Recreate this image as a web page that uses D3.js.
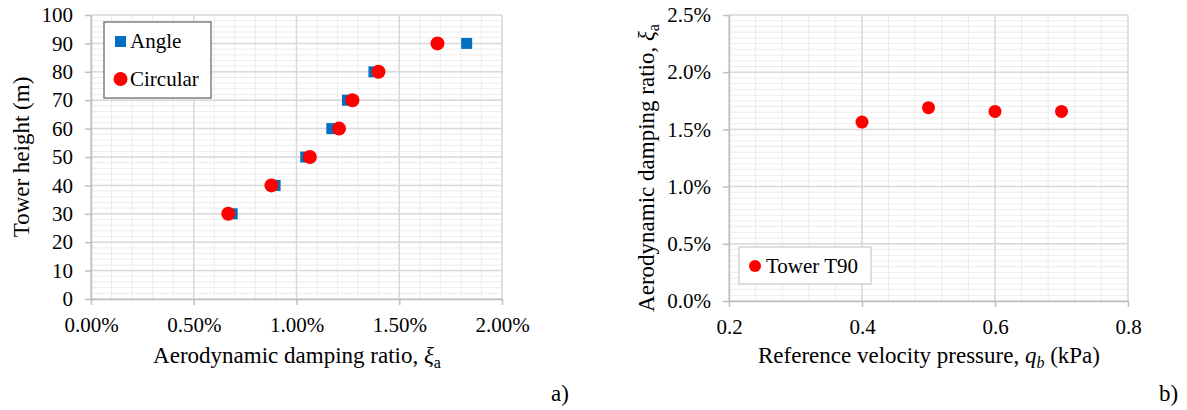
<!DOCTYPE html>
<html><head><meta charset="utf-8">
<script src="https://cdn.jsdelivr.net/npm/d3@7"></script>
<style>
body{margin:0;background:#fff;}
svg{display:block;}
</style></head>
<body>
<svg id="c" width="1187" height="410"></svg>
<script>
// ---- Data ----
const heights = [30, 40, 50, 60, 70, 80, 90];
const angleRatio = [0.00687, 0.00896, 0.01045, 0.01172, 0.01248, 0.01377, 0.01828];
const circularRatio = [0.00668, 0.00878, 0.01065, 0.01207, 0.01272, 0.01399, 0.01686];
const pressure = [0.4, 0.5, 0.6, 0.7];
const t90Ratio = [0.01564, 0.01690, 0.01657, 0.01657];
const leftXTicks = [0, 0.005, 0.01, 0.015, 0.02];
const leftYTicks = [0,10,20,30,40,50,60,70,80,90,100];
const rightXTicks = [0.2, 0.4, 0.6, 0.8];
const rightYTicks = [0, 0.005, 0.01, 0.015, 0.02, 0.025];

const FONT = "'Liberation Serif'";
const svg = d3.select("#c");

function T(sel){ return sel.attr("font-family", FONT).attr("fill","#000"); }

function panel(opts){
  const {x, y, xTicks, yTicks, xMinor, yMinor, xFmt, yFmt} = opts;
  const g = svg.append("g");
  const [x0,x1] = x.range(), [y0,y1] = y.range();
  g.selectAll(".mh").data(yMinor).join("line")
    .attr("x1",x0).attr("x2",x1).attr("y1",d=>y(d)).attr("y2",d=>y(d))
    .attr("stroke","#ececec").attr("stroke-width",1);
  g.selectAll(".mv").data(xMinor).join("line")
    .attr("y1",y0).attr("y2",y1).attr("x1",d=>x(d)).attr("x2",d=>x(d))
    .attr("stroke","#ececec").attr("stroke-width",1);
  g.selectAll(".Mh").data(yTicks).join("line")
    .attr("x1",x0).attr("x2",x1).attr("y1",d=>y(d)).attr("y2",d=>y(d))
    .attr("stroke","#d9d9d9").attr("stroke-width",1.5);
  g.selectAll(".Mv").data(xTicks).join("line")
    .attr("y1",y0).attr("y2",y1).attr("x1",d=>x(d)).attr("x2",d=>x(d))
    .attr("stroke","#d9d9d9").attr("stroke-width",1.5);
  const ax = g.append("g").attr("transform",`translate(0,${y0})`)
    .call(d3.axisBottom(x).tickValues(xTicks).tickFormat(xFmt).tickSizeInner(6).tickSizeOuter(0).tickPadding(12));
  const ay = g.append("g").attr("transform",`translate(${x0},0)`)
    .call(d3.axisLeft(y).tickValues(yTicks).tickFormat(yFmt).tickSizeInner(6).tickSizeOuter(0).tickPadding(12));
  [ax,ay].forEach(a=>{
    a.attr("font-family", null).attr("font-size", null);
    a.select(".domain").attr("stroke","#bfbfbf").attr("stroke-width",1.5);
    a.selectAll(".tick line").attr("stroke","#bfbfbf").attr("stroke-width",1.5);
    T(a.selectAll(".tick text")).attr("font-size",21);
  });
  return g;
}

// ---- Left panel ----
const xL = d3.scaleLinear().domain([0,0.02]).range([91,502]);
const yL = d3.scaleLinear().domain([0,100]).range([299,15]);
const gL = panel({x:xL, y:yL, xTicks:leftXTicks, yTicks:leftYTicks,
  xMinor:d3.range(0,0.0201,0.001), yMinor:d3.range(0,100.1,2),
  xFmt:d3.format(".2%"), yFmt:d3.format("d")});

gL.selectAll(".sq").data(heights).join("rect")
  .attr("x",(d,i)=>xL(angleRatio[i])-5.5).attr("y",d=>yL(d)-5.5)
  .attr("width",11).attr("height",11).attr("fill","#0070c0");
gL.selectAll(".ci").data(heights).join("circle")
  .attr("cx",(d,i)=>xL(circularRatio[i])).attr("cy",d=>yL(d)).attr("r",7).attr("fill","#ff0000");

gL.append("rect").attr("x",104).attr("y",22).attr("width",107).attr("height",76)
  .attr("fill","#fff").attr("stroke","#7f7f7f").attr("stroke-width",1.5);
gL.append("rect").attr("x",115).attr("y",36).attr("width",11).attr("height",11).attr("fill","#0070c0");
T(gL.append("text")).attr("x",130).attr("y",48).attr("font-size",21).text("Angle");
gL.append("circle").attr("cx",120.5).attr("cy",79).attr("r",7).attr("fill","#ff0000");
T(gL.append("text")).attr("x",130).attr("y",86).attr("font-size",21).text("Circular");

T(gL.append("text")).attr("transform","translate(29,157) rotate(-90)")
  .attr("text-anchor","middle").attr("font-size",23).text("Tower height (m)");
const txL = T(gL.append("text")).attr("x",297).attr("y",363).attr("text-anchor","middle").attr("font-size",23);
txL.append("tspan").text("Aerodynamic damping ratio, ");
txL.append("tspan").attr("font-style","italic").text("ξ");
txL.append("tspan").attr("dy",5).attr("font-size",16).text("a");
T(svg.append("text")).attr("x",551).attr("y",401).attr("font-size",23).text("a)");

// ---- Right panel ----
const xR = d3.scaleLinear().domain([0.2,0.8]).range([729,1128]);
const yR = d3.scaleLinear().domain([0,0.025]).range([301,15]);
const gR = panel({x:xR, y:yR, xTicks:rightXTicks, yTicks:rightYTicks,
  xMinor:d3.range(0.2,0.8001,0.04), yMinor:d3.range(0,0.02501,0.0005),
  xFmt:d3.format(".1f"), yFmt:d3.format(".1%")});

gR.selectAll(".ci").data(pressure).join("circle")
  .attr("cx",d=>xR(d)).attr("cy",(d,i)=>yR(t90Ratio[i])).attr("r",6.5).attr("fill","#ff0000");

gR.append("rect").attr("x",739).attr("y",247).attr("width",132).attr("height",37)
  .attr("fill","#fff").attr("stroke","#bfbfbf").attr("stroke-width",1);
gR.append("circle").attr("cx",755).attr("cy",266).attr("r",6).attr("fill","#ff0000");
T(gR.append("text")).attr("x",766).attr("y",273).attr("font-size",21).text("Tower T90");

const tyR = T(gR.append("text")).attr("transform","translate(654,168) rotate(-90)")
  .attr("text-anchor","middle").attr("font-size",23);
tyR.append("tspan").text("Aerodynamic damping ratio, ");
tyR.append("tspan").attr("font-style","italic").text("ξ");
tyR.append("tspan").attr("dy",5).attr("font-size",16).text("a");

const txR = T(gR.append("text")).attr("x",929).attr("y",363).attr("text-anchor","middle").attr("font-size",23);
txR.append("tspan").text("Reference velocity pressure, ");
txR.append("tspan").attr("font-style","italic").text("q");
txR.append("tspan").attr("dy",5).attr("font-size",16).attr("font-style","italic").text("b");
txR.append("tspan").attr("dy",-5).text(" (kPa)");
T(svg.append("text")).attr("x",1159).attr("y",401).attr("font-size",23).text("b)");
</script>
</body></html>
